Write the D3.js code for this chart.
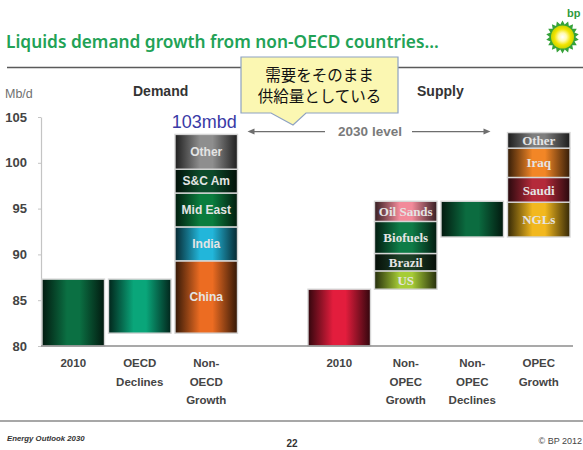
<!DOCTYPE html>
<html>
<head>
<meta charset="utf-8">
<script src="https://cdn.jsdelivr.net/npm/d3@7"></script>
<style>
  html, body { margin: 0; padding: 0; background: #fff; }
  svg { display: block; }
</style>
</head>
<body>
<svg id="chart" width="583" height="450"></svg>
<script>
// ---- data (Mb/d) ----
const categories = ["2010 demand", "OECD Declines", "Non-OECD Growth", "spacer",
                    "2010 supply", "Non-OPEC Growth", "Non-OPEC Declines", "OPEC Growth"];
const categoryLabels = [["2010"], ["OECD", "Declines"], ["Non-", "OECD", "Growth"], [],
                        ["2010"], ["Non-", "OPEC", "Growth"], ["Non-", "OPEC", "Declines"], ["OPEC", "Growth"]];
const yTicks = [80, 85, 90, 95, 100, 105];

const demand2010 = 87.3;
const oecdDecline = -5.9;
const nonOecdRegions = ["China", "India", "Mid East", "S&C Am", "Other"];
const nonOecdGrowth = [7.9, 3.7, 3.7, 2.6, 3.8];

const supply2010 = 86.2;
const nonOpecSources = ["US", "Brazil", "Biofuels", "Oil Sands"];
const nonOpecGrowth = [2.0, 1.9, 3.5, 2.2];
const nonOpecDecline = -3.9;
const opecSources = ["NGLs", "Saudi", "Iraq", "Other"];
const opecGrowth = [3.8, 2.7, 3.2, 1.7];

// ---- colours ----
const fillColor = {
  "2010 demand|": "#0b7043",
  "OECD Declines|": "#0aa67a",
  "Non-OECD Growth|China": "#ec6c22",
  "Non-OECD Growth|India": "#22b6da",
  "Non-OECD Growth|Mid East": "#0b7d3e",
  "Non-OECD Growth|S&C Am": "#0c4a2a",
  "Non-OECD Growth|Other": "#8e8e8e",
  "2010 supply|": "#e31d3d",
  "Non-OPEC Growth|US": "#a6cc36",
  "Non-OPEC Growth|Brazil": "#1c3e26",
  "Non-OPEC Growth|Biofuels": "#0e7c47",
  "Non-OPEC Growth|Oil Sands": "#f28a9a",
  "Non-OPEC Declines|": "#0b6c40",
  "OPEC Growth|NGLs": "#f2b81e",
  "OPEC Growth|Saudi": "#b42a3a",
  "OPEC Growth|Iraq": "#f28626",
  "OPEC Growth|Other": "#7e7e7e"
};

const svg = d3.select("#chart");
const defs = svg.append("defs");

// ---- scales ----
const y = d3.scaleLinear().domain([80, 105]).range([346, 117]);
const x = d3.scaleBand().domain(categories).range([40, 572])
  .paddingInner(0.06).paddingOuter(0.03);

// ---- waterfall segments ----
function stackParts(cat, start, names, deltas) {
  let v = start;
  return names.map((name, i) => {
    const s = { cat, name, y0: v, y1: v + deltas[i] };
    v += deltas[i];
    return s;
  });
}
const segments = [];
segments.push({ cat: "2010 demand", name: "", y0: 80, y1: demand2010 });
const afterOecd = demand2010 + oecdDecline;
segments.push({ cat: "OECD Declines", name: "", y0: afterOecd, y1: demand2010 });
segments.push(...stackParts("Non-OECD Growth", afterOecd, nonOecdRegions, nonOecdGrowth));
const demand2030 = afterOecd + d3.sum(nonOecdGrowth);

segments.push({ cat: "2010 supply", name: "", y0: 80, y1: supply2010 });
segments.push(...stackParts("Non-OPEC Growth", supply2010, nonOpecSources, nonOpecGrowth));
const nonOpecTop = supply2010 + d3.sum(nonOpecGrowth);
const afterDecline = nonOpecTop + nonOpecDecline;
segments.push({ cat: "Non-OPEC Declines", name: "", y0: afterDecline, y1: nonOpecTop });
segments.push(...stackParts("OPEC Growth", afterDecline, opecSources, opecGrowth));
const supply2030 = afterDecline + d3.sum(opecGrowth);

// horizontal shading: dark edges, bright centre
segments.forEach((s, i) => {
  const base = fillColor[s.cat + "|" + s.name];
  const dark = d3.interpolateRgb(base, "#000")(0.78);
  const g = defs.append("linearGradient").attr("id", "grad" + i)
    .attr("x1", "0%").attr("x2", "100%").attr("y1", "0%").attr("y2", "0%");
  [[0, dark], [0.4, base], [0.6, base], [1, dark]].forEach(([o, c]) =>
    g.append("stop").attr("offset", o).attr("stop-color", c));
  s.grad = "url(#grad" + i + ")";
});

// ---- header ----
const title = svg.append("text")
  .attr("x", 6).attr("y", 48)
  .attr("font-family", "'Noto Sans', 'DejaVu Sans', sans-serif")
  .attr("font-weight", 600)
  .attr("font-size", 15)
  .attr("fill", "#22a256")
  .text("Liquids demand growth from non-OECD countries...");
// fit the title to the header width
const tw = title.node().getComputedTextLength();
title.attr("font-size", 15 * 433 / tw);

svg.append("line").attr("x1", 7).attr("x2", 583).attr("y1", 67.5).attr("y2", 67.5)
  .attr("stroke", "#5a5a5a").attr("stroke-width", 1.3);

// bp helios mark
const logo = svg.append("g").attr("transform", "translate(562.5,37)");
const rays = 18;
const starPts = d3.range(rays * 2).map(k => {
  const r = k % 2 === 0 ? 16.5 : 12.8;
  const a = Math.PI * k / rays;
  return [r * Math.sin(a), -r * Math.cos(a)];
});
logo.append("path").attr("d", d3.line().curve(d3.curveLinearClosed)(starPts)).attr("fill", "#36a23a");
const sun = defs.append("radialGradient").attr("id", "sun");
[[0, "#ffffff"], [0.35, "#fffbb0"], [0.7, "#f3e400"], [1, "#c8d400"]].forEach(([o, c]) =>
  sun.append("stop").attr("offset", o).attr("stop-color", c));
logo.append("circle").attr("r", 11.5).attr("fill", "url(#sun)");
svg.append("text").attr("x", 567).attr("y", 17)
  .attr("font-family", "'Liberation Sans', Arial, sans-serif").attr("font-weight", "bold")
  .attr("font-size", 11).attr("fill", "#2f9a3e").text("bp");

// ---- axis labels / section headings ----
svg.append("text").attr("x", 5).attr("y", 98)
  .attr("font-family", "'Liberation Sans', Arial, sans-serif").attr("font-size", 12.5)
  .attr("fill", "#707070").text("Mb/d");
svg.append("text").attr("x", 133).attr("y", 95.5)
  .attr("font-family", "'Liberation Sans', Arial, sans-serif").attr("font-weight", "bold")
  .attr("font-size", 14).attr("fill", "#333").text("Demand");
svg.append("text").attr("x", 417).attr("y", 95.5)
  .attr("font-family", "'Liberation Sans', Arial, sans-serif").attr("font-weight", "bold")
  .attr("font-size", 14).attr("fill", "#333").text("Supply");

// ---- y axis ----
const yAxis = svg.append("g").attr("transform", "translate(41,0)")
  .call(d3.axisLeft(y).tickValues(yTicks).tickSize(3).tickSizeOuter(0).tickPadding(11));
yAxis.select(".domain").attr("stroke", "#c4c4c4").attr("stroke-width", 1.2);
yAxis.selectAll(".tick line").attr("stroke", "#c4c4c4");
yAxis.selectAll(".tick text")
  .attr("font-family", "'Liberation Sans', Arial, sans-serif")
  .attr("font-weight", "bold").attr("font-size", 13).attr("fill", "#444");

// ---- bars ----
const bars = svg.append("g");
bars.selectAll("rect").data(segments).join("rect")
  .attr("x", d => x(d.cat))
  .attr("width", x.bandwidth())
  .attr("y", d => y(d.y1))
  .attr("height", d => y(d.y0) - y(d.y1))
  .attr("fill", d => d.grad)
  .attr("stroke", "#d6d6d6").attr("stroke-width", 1.4);

const isSupply = d => ["Non-OPEC Growth", "OPEC Growth"].includes(d.cat);
bars.selectAll("text").data(segments.filter(d => d.name)).join("text")
  .attr("x", d => x(d.cat) + x.bandwidth() / 2)
  .attr("y", d => (y(d.y0) + y(d.y1)) / 2)
  .attr("dy", "0.36em")
  .attr("text-anchor", "middle")
  .attr("font-family", d => isSupply(d) ? "'Liberation Serif', 'Times New Roman', serif"
                                        : "'Liberation Sans', Arial, sans-serif")
  .attr("font-weight", "bold")
  .attr("font-size", d => isSupply(d) ? 13 : 12)
  .attr("fill", "#e4e4e4")
  .text(d => d.name);

// baseline
svg.append("line").attr("x1", 41).attr("x2", 573).attr("y1", y(80)).attr("y2", y(80))
  .attr("stroke", "#8c8c8c").attr("stroke-width", 1.6);

// ---- category labels ----
const catG = svg.append("g")
  .attr("font-family", "'Liberation Sans', Arial, sans-serif")
  .attr("font-weight", "bold").attr("font-size", 11.5).attr("fill", "#444")
  .attr("text-anchor", "middle");
categories.forEach((c, i) => {
  const t = catG.append("text").attr("x", x(c) + x.bandwidth() / 2).attr("y", 367);
  categoryLabels[i].forEach((line, j) =>
    t.append("tspan").attr("x", x(c) + x.bandwidth() / 2).attr("y", 367 + j * 18.5).text(line));
});

// ---- 2030 level marker ----
const levelY = y(supply2030) - 1;
const leftTip = x("Non-OECD Growth") + x.bandwidth() + 10;
const rightTip = x("OPEC Growth") - 17;
const arrowCol = "#6e6e6e";
svg.append("line").attr("x1", leftTip + 4).attr("x2", 325).attr("y1", levelY).attr("y2", levelY)
  .attr("stroke", arrowCol).attr("stroke-width", 1.2);
svg.append("path")
  .attr("d", `M${leftTip},${levelY} l7,-3 v6 z`).attr("fill", arrowCol);
svg.append("line").attr("x1", 412).attr("x2", rightTip - 4).attr("y1", levelY).attr("y2", levelY)
  .attr("stroke", arrowCol).attr("stroke-width", 1.2);
svg.append("path")
  .attr("d", `M${rightTip},${levelY} l-7,-3 v6 z`).attr("fill", arrowCol);
svg.append("text").attr("x", 370).attr("y", levelY + 4)
  .attr("text-anchor", "middle")
  .attr("font-family", "'Liberation Sans', Arial, sans-serif")
  .attr("font-weight", "bold").attr("font-size", 13.5).attr("fill", "#7a7a7a")
  .text("2030 level");

// total demand label
svg.append("text")
  .attr("x", x("Non-OECD Growth") + x.bandwidth() / 2 - 2)
  .attr("y", y(demand2030) - 6)
  .attr("text-anchor", "middle")
  .attr("font-family", "'Liberation Sans', Arial, sans-serif")
  .attr("font-size", 18).attr("fill", "#3a3aa6")
  .text(Math.round(demand2030) + "mbd");

// ---- callout ----
svg.append("path")
  .attr("d", "M241,57 H398 V113 H306 L293,125 L271,113 H241 Z")
  .attr("fill", "#fbf7b2").attr("stroke", "#8ea2c2").attr("stroke-width", 1.2);
const note = svg.append("text")
  .attr("text-anchor", "middle")
  .attr("font-family", "'Noto Sans CJK JP', sans-serif")
  .attr("font-size", 15.5).attr("fill", "#111");
note.append("tspan").attr("x", 319.5).attr("y", 80.5).text("需要をそのまま");
note.append("tspan").attr("x", 319.5).attr("y", 102).text("供給量としている");

// ---- footer ----
svg.append("line").attr("x1", 0).attr("x2", 583).attr("y1", 421).attr("y2", 421)
  .attr("stroke", "#8a8a8a").attr("stroke-width", 1.4);
svg.append("text").attr("x", 7).attr("y", 441)
  .attr("font-family", "'Liberation Sans', Arial, sans-serif")
  .attr("font-style", "italic").attr("font-weight", "bold")
  .attr("font-size", 7.8).attr("fill", "#333").text("Energy Outlook 2030");
svg.append("text").attr("x", 292).attr("y", 446.5).attr("text-anchor", "middle")
  .attr("font-family", "'Liberation Sans', Arial, sans-serif")
  .attr("font-weight", "bold").attr("font-size", 10).attr("fill", "#333").text("22");
svg.append("text").attr("x", 582).attr("y", 444).attr("text-anchor", "end")
  .attr("font-family", "'Liberation Sans', Arial, sans-serif")
  .attr("font-size", 9).attr("fill", "#444").text("© BP 2012");
</script>
</body>
</html>
